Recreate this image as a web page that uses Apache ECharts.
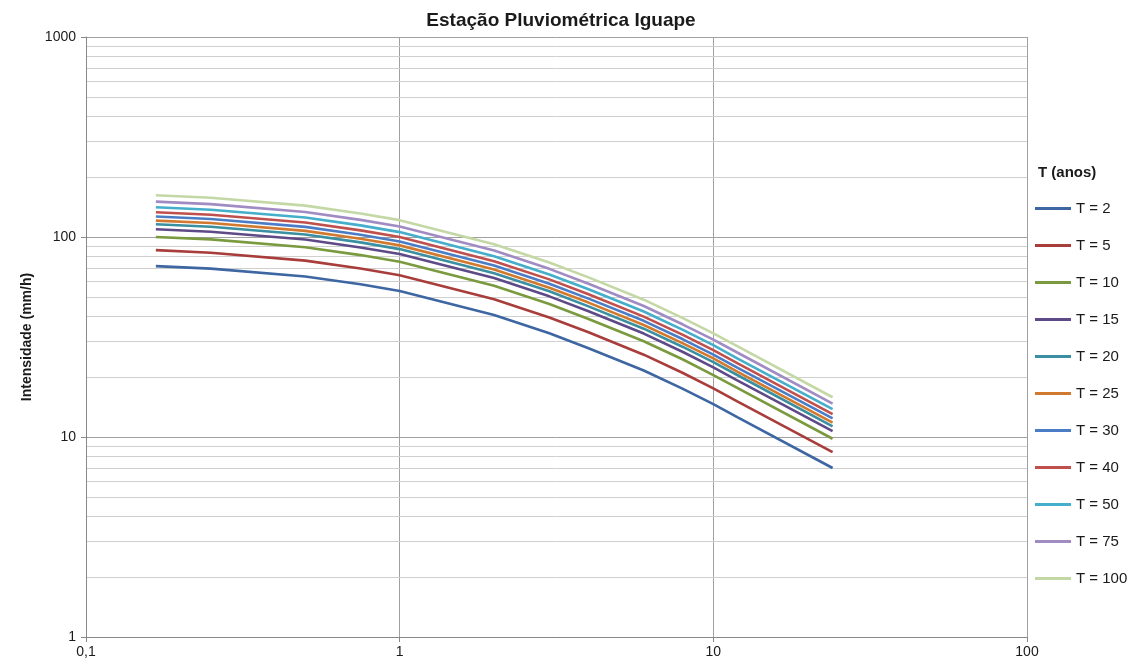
<!DOCTYPE html>
<html>
<head>
<meta charset="utf-8">
<script src="https://cdn.jsdelivr.net/npm/echarts@6/dist/echarts.min.js"></script>
<style>
  html, body { margin: 0; padding: 0; background: #fff; }
  #chart { width: 1145px; height: 668px; }
</style>
</head>
<body>
<div id="chart"></div>
<script>
// durações (horas)
var durations = [0.167, 0.25, 0.5, 0.75, 1, 2, 3, 4, 6, 8, 10, 12, 24];

var seriesNames = ['T = 2', 'T = 5', 'T = 10', 'T = 15', 'T = 20', 'T = 25',
                   'T = 30', 'T = 40', 'T = 50', 'T = 75', 'T = 100'];

// intensidades (mm/h)
var t2   = [71.5, 69.5, 63.5, 58.0, 53.7, 40.7, 33.0, 27.8, 21.5, 17.4, 14.6, 12.5, 7.0];
var t5   = [86.0, 83.4, 76.2, 69.6, 64.4, 48.8, 39.6, 33.4, 25.8, 20.9, 17.5, 15.0, 8.4];
var t10  = [100.0, 97.3, 88.9, 81.2, 75.2, 57.0, 46.2, 38.9, 30.1, 24.4, 20.4, 17.5, 9.8];
var t15  = [109.4, 106.3, 97.2, 88.7, 82.2, 62.3, 50.5, 42.5, 32.9, 26.6, 22.3, 19.1, 10.7];
var t20  = [115.8, 112.6, 102.9, 94.0, 87.0, 65.9, 53.5, 45.0, 34.8, 28.2, 23.7, 20.3, 11.3];
var t25  = [120.8, 117.5, 107.3, 98.0, 90.8, 68.8, 55.8, 47.0, 36.3, 29.4, 24.7, 21.1, 11.8];
var t30  = [126.6, 123.0, 112.4, 102.7, 95.0, 72.0, 58.4, 49.2, 38.1, 30.8, 25.8, 22.1, 12.4];
var t40  = [133.0, 129.3, 118.1, 107.9, 99.9, 75.7, 61.4, 51.7, 40.0, 32.4, 27.2, 23.3, 13.0];
var t50  = [140.9, 136.9, 125.1, 114.3, 105.8, 80.2, 65.0, 54.8, 42.4, 34.3, 28.8, 24.6, 13.8];
var t75  = [150.2, 146.0, 133.4, 121.8, 112.8, 85.5, 69.3, 58.4, 45.2, 36.5, 30.7, 26.3, 14.7];
var t100 = [161.6, 157.1, 143.5, 131.1, 121.4, 92.0, 74.6, 62.8, 48.6, 39.3, 33.0, 28.3, 15.8];

var allValues = [t2, t5, t10, t15, t20, t25, t30, t40, t50, t75, t100];

var colors = ['#3D66A2', '#A83D3B', '#7A9A3F', '#5F4A88', '#3A8FA0', '#D17A2F',
              '#4B7DC6', '#C0504D', '#45AECB', '#A08CC2', '#C4D8A6'];

// linhas de grade secundárias (eixo y)
var minorY = [2, 3, 4, 5, 6, 7, 8, 9, 20, 30, 40, 50, 60, 70, 80, 90,
              200, 300, 400, 500, 600, 700, 800, 900];

var fontFamily = '"Liberation Sans", Arial, sans-serif';

var chart = echarts.init(document.getElementById('chart'));

var series = [{
    name: 'grade',
    type: 'line',
    data: [],
    silent: true,
    z: 0,
    zlevel: 0,
    markLine: {
        silent: true,
        symbol: 'none',
        animation: false,
        z: 0,
        label: { show: false },
        lineStyle: { color: '#cfcfcf', type: 'solid', width: 1 },
        data: minorY.map(function (v) { return { yAxis: v }; })
    }
}];

for (var i = 0; i < seriesNames.length; i++) {
    series.push({
        name: seriesNames[i],
        type: 'line',
        showSymbol: false,
        symbol: 'none',
        z: 5,
        zlevel: 1,
        lineStyle: { width: 2.6, color: colors[i] },
        itemStyle: { color: colors[i] },
        data: durations.map(function (d, j) { return [d, allValues[i][j]]; })
    });
}

var option = {
    animation: false,
    textStyle: { fontFamily: fontFamily },
    title: [{
        text: 'Estação Pluviométrica Iguape',
        left: 556,
        top: 6,
        textAlign: 'center',
        textStyle: { fontSize: 19, fontWeight: 'bold', color: '#1a1a1a', fontFamily: fontFamily }
    }, {
        text: 'T (anos)',
        left: 1033,
        top: 160,
        textStyle: { fontSize: 15, fontWeight: 'bold', color: '#1a1a1a', fontFamily: fontFamily }
    }],
    legend: {
        data: seriesNames,
        orient: 'vertical',
        left: 1030,
        top: 196,
        itemWidth: 36,
        itemHeight: 14,
        itemGap: 22,
        icon: 'path://M0,0H36V3H0Z',
        textStyle: { fontSize: 15, color: '#1a1a1a', fontFamily: fontFamily }
    },
    grid: { left: 86, right: 118, top: 37, bottom: 31, containLabel: false },
    xAxis: {
        type: 'log',
        logBase: 10,
        min: 0.1,
        max: 100,
        axisLine: { show: true, lineStyle: { color: '#888' } },
        axisTick: { show: true, length: 5, lineStyle: { color: '#888' } },
        axisLabel: {
            fontSize: 14, color: '#1a1a1a', margin: 8,
            formatter: function (v) { return String(v).replace('.', ','); }
        },
        splitLine: { show: true, lineStyle: { color: '#a0a0a0', width: 1 } }
    },
    yAxis: {
        type: 'log',
        logBase: 10,
        min: 1,
        max: 1000,
        name: 'Intensidade (mm/h)',
        nameLocation: 'middle',
        nameRotate: 90,
        nameGap: 52,
        nameTextStyle: { fontSize: 14, fontWeight: 'bold', color: '#1a1a1a' },
        axisLine: { show: true, lineStyle: { color: '#888' } },
        axisTick: { show: true, length: 5, lineStyle: { color: '#888' } },
        axisLabel: {
            fontSize: 14, color: '#1a1a1a', margin: 10,
            formatter: function (v) { return String(v); }
        },
        splitLine: { show: true, lineStyle: { color: '#a0a0a0', width: 1 } }
    },
    series: series
};

chart.setOption(option);
</script>
</body>
</html>
